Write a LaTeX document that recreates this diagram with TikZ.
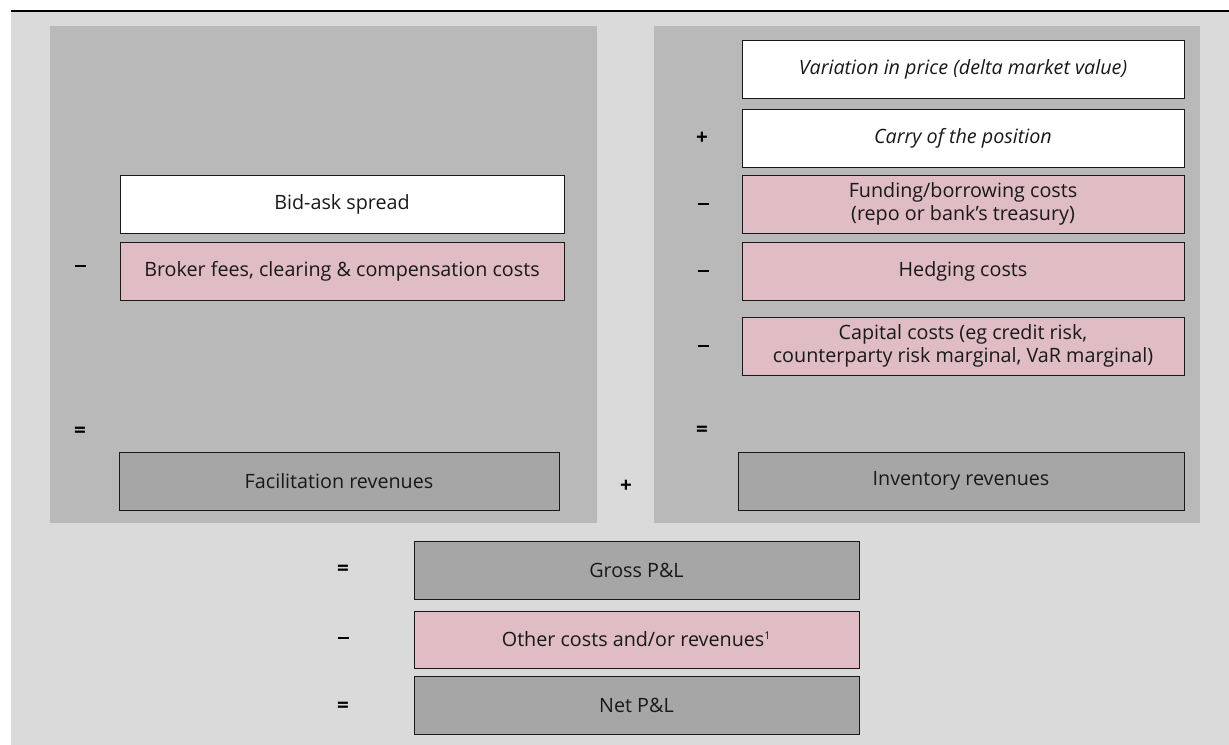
\documentclass[tikz,border=0pt]{standalone}
\usepackage{fontspec}
\setmainfont{Open Sans}
\newdimen\pxu \pxu=0.75pt
\definecolor{bgcol}{HTML}{DADADA}
\definecolor{panelcol}{HTML}{B9B9B9}
\definecolor{darkcol}{HTML}{A6A6A6}
\definecolor{pinkcol}{HTML}{E0BCC5}
\newcommand{\mydash}{\rule{8.25pt}{1.7pt}}
\tikzset{
  box/.style={draw=black!90, line width=0.7pt, minimum height=58\pxu, inner sep=2pt,
    align=center, font=\fontsize{14.8}{17.5}\selectfont, text=black!90},
  whitebox/.style={box, fill=white},
  pinkbox/.style={box, fill=pinkcol},
  darkbox/.style={box, fill=darkcol},
  sign/.style={font=\fontsize{15.5}{17}\selectfont\bfseries, inner sep=0pt},
}
\begin{document}
\begin{tikzpicture}[x=0.75pt, y=-0.75pt]
\useasboundingbox (0,0) rectangle (1229,745);
\fill[bgcol] (11,12) rectangle (1229,745);
\draw[line width=1.5pt, black] (11,11) -- (1229,11);
\fill[panelcol] (50,26) rectangle (597,523);
\fill[panelcol] (654,26) rectangle (1200,523);

% left column
\node[whitebox, minimum width=444\pxu] (bid) at (342,204) {Bid-ask spread};
\node[pinkbox, minimum width=444\pxu] (broker) at (342,271) {Broker fees, clearing \& compensation costs};
\node[darkbox, minimum width=440\pxu] (facil) at (339,481) {Facilitation revenues};
\node[sign] (lminus) at (80,266) {\mydash};
\node[sign] (leq) at (80,432) {=};

% middle plus
\node[sign] (midplus) at (626,486) {+};

% right column
\node[whitebox, minimum width=442\pxu] (var) at (963,69) {\itshape Variation in price (delta market value)};
\node[whitebox, minimum width=442\pxu] (carry) at (963,138) {\itshape Carry of the position};
\node[pinkbox, minimum width=442\pxu] (fund) at (963,204) {Funding/borrowing costs\\(repo or bank’s treasury)};
\node[pinkbox, minimum width=442\pxu] (hedge) at (963,271) {Hedging costs};
\node[pinkbox, minimum width=442\pxu] (capital) at (963,346) {Capital costs (eg credit risk,\\counterparty risk marginal, VaR marginal)};
\node[darkbox, minimum width=446\pxu] (inv) at (961,481) {Inventory revenues};
\node[sign] (rplus) at (702,138) {+};
\node[sign] (rminus1) at (703,204) {\mydash};
\node[sign] (rminus2) at (703,271) {\mydash};
\node[sign] (rminus3) at (703,346) {\mydash};
\node[sign] (req) at (702,431) {=};

% bottom
\node[darkbox, minimum width=445\pxu] (gross) at (636.5,570) {Gross P\&L};
\node[pinkbox, minimum width=445\pxu, minimum height=57\pxu] (other) at (636.5,639.5) {Other costs and/or revenues\textsuperscript{\fontsize{8}{8}\selectfont 1}};
\node[darkbox, minimum width=445\pxu] (net) at (636.5,705) {Net P\&L};
\node[sign] (beq1) at (343,570) {=};
\node[sign] (bminus) at (343,638) {\mydash};
\node[sign] (beq2) at (343,707) {=};
\end{tikzpicture}
\end{document}
